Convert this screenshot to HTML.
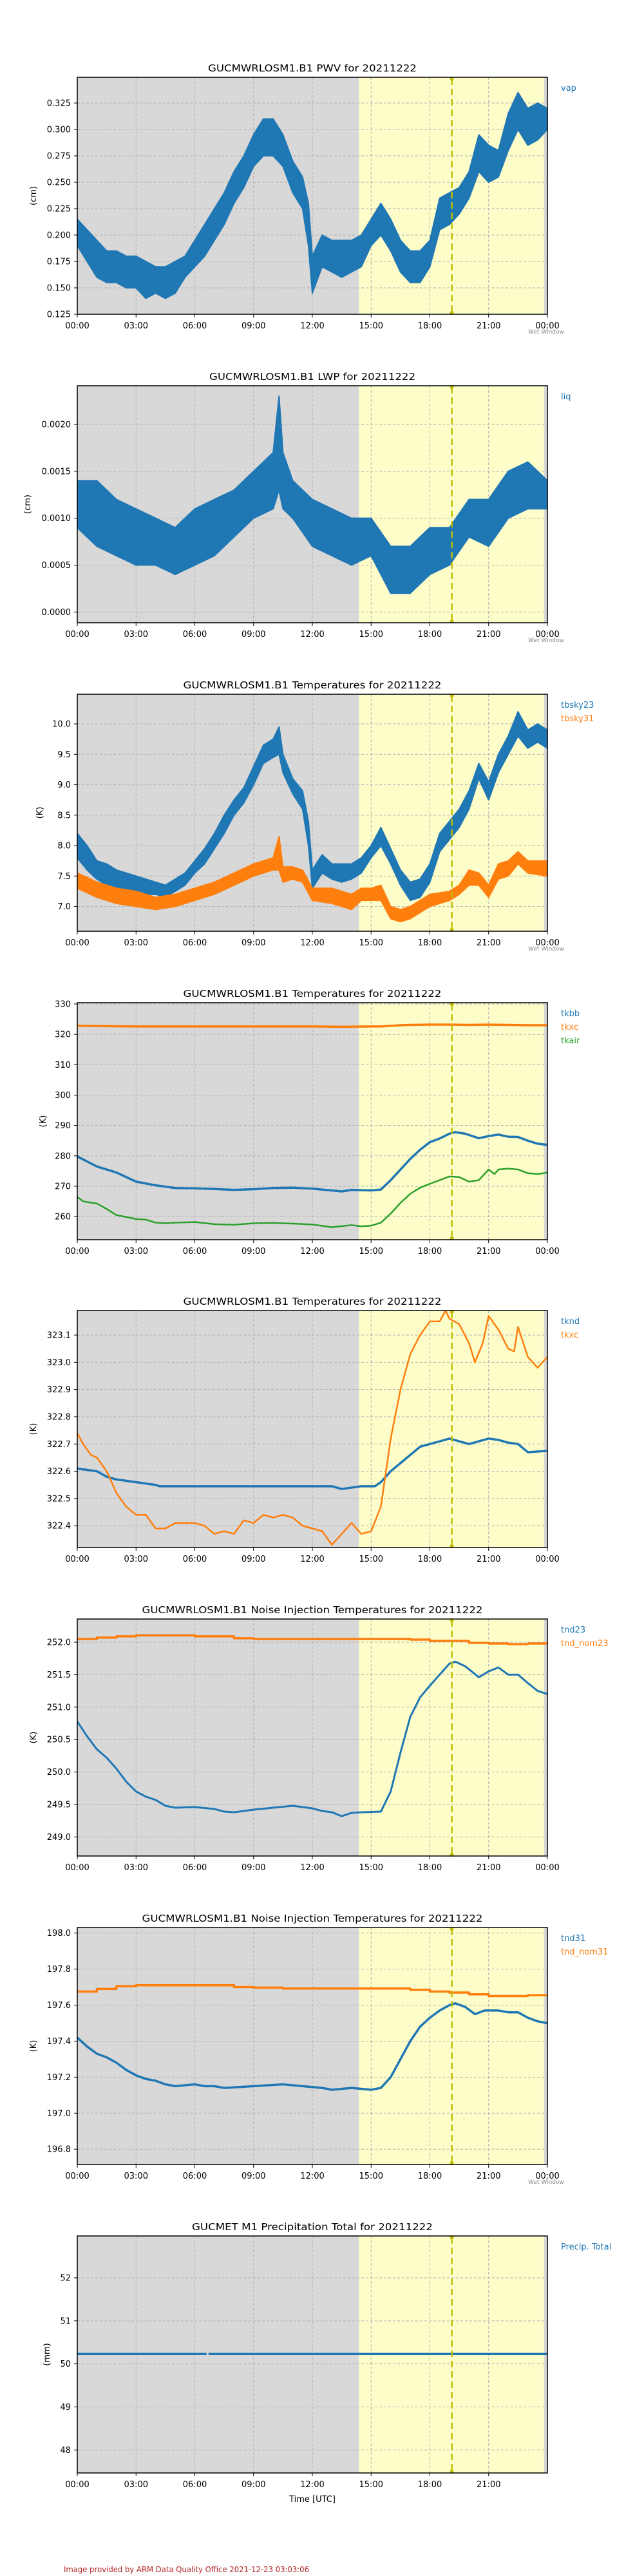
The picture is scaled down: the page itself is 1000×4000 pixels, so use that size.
<!DOCTYPE html>
<html><head><meta charset="utf-8"><title>GUCMWRLOSM1 plots</title>
<style>
html,body{margin:0;padding:0;background:#fff;}
svg{display:block;}
text{font-family:"DejaVu Sans","Liberation Sans",sans-serif;}
</style></head>
<body>
<svg id="root" width="1000" height="4000" viewBox="0 0 1000 4000" xmlns="http://www.w3.org/2000/svg"></svg>
<script>
// ===== Data =====
const pwvT  = [0,0.5,1,1.5,2,2.5,3,3.5,4,4.5,5,5.5,6,6.5,7,7.5,8,8.5,9,9.5,10,10.5,11,11.5,11.8,12,12.5,13,13.5,14,14.5,15,15.5,16,16.5,17,17.5,18,18.5,19,19.5,20,20.5,21,21.5,22,22.5,23,23.5,24];
const pwvLo = [0.19,0.175,0.16,0.155,0.155,0.15,0.15,0.14,0.145,0.14,0.145,0.16,0.17,0.18,0.195,0.21,0.23,0.245,0.265,0.275,0.275,0.265,0.24,0.225,0.19,0.145,0.17,0.165,0.16,0.165,0.17,0.19,0.2,0.185,0.165,0.155,0.155,0.17,0.205,0.21,0.22,0.235,0.26,0.25,0.255,0.28,0.3,0.285,0.29,0.3];
const pwvHi = [0.215,0.205,0.195,0.185,0.185,0.18,0.18,0.175,0.17,0.17,0.175,0.18,0.195,0.21,0.225,0.24,0.26,0.275,0.295,0.31,0.31,0.295,0.27,0.255,0.23,0.18,0.2,0.195,0.195,0.195,0.2,0.215,0.23,0.215,0.195,0.185,0.185,0.195,0.235,0.24,0.245,0.26,0.295,0.285,0.28,0.315,0.335,0.32,0.325,0.32];
const lwpT  = [0,1,2,3,4,5,6,7,8,9,10,10.3,10.5,11,12,13,14,15,16,17,18,19,20,21,22,23,24];
const lwpLo = [0.0009,0.0007,0.0006,0.0005,0.0005,0.0004,0.0005,0.0006,0.0008,0.001,0.0011,0.0013,0.0011,0.001,0.0007,0.0006,0.0005,0.0006,0.0002,0.0002,0.0004,0.0005,0.0008,0.0007,0.001,0.0011,0.0011];
const lwpHi = [0.0014,0.0014,0.0012,0.0011,0.001,0.0009,0.0011,0.0012,0.0013,0.0015,0.0017,0.0023,0.0017,0.0014,0.0012,0.0011,0.001,0.001,0.0007,0.0007,0.0009,0.0009,0.0012,0.0012,0.0015,0.0016,0.0014];
const skyT   = [0,0.5,1,1.5,2,2.5,3,3.5,4,4.5,5,5.5,6,6.5,7,7.5,8,8.5,9,9.5,10,10.3,10.5,11,11.5,11.8,12,12.5,13,13.5,14,14.5,15,15.5,16,16.5,17,17.5,18,18.5,19,19.5,20,20.5,21,21.5,22,22.5,23,23.5,24];
const sky23Lo= [7.8,7.6,7.45,7.35,7.3,7.25,7.2,7.2,7.2,7.15,7.25,7.35,7.55,7.7,7.95,8.2,8.5,8.7,9.0,9.35,9.45,9.5,9.2,8.85,8.6,8.0,7.3,7.55,7.45,7.4,7.45,7.55,7.8,8.0,7.7,7.35,7.1,7.15,7.4,7.9,8.1,8.3,8.6,9.1,8.75,9.2,9.5,9.8,9.6,9.7,9.6];
const sky23Hi= [8.2,8.0,7.75,7.7,7.6,7.55,7.5,7.45,7.4,7.35,7.45,7.55,7.75,7.95,8.2,8.5,8.75,8.95,9.3,9.65,9.75,9.95,9.5,9.1,8.9,8.4,7.6,7.85,7.7,7.7,7.7,7.8,8.0,8.3,7.95,7.6,7.4,7.45,7.7,8.2,8.4,8.6,8.9,9.35,9.05,9.5,9.8,10.2,9.9,10.0,9.9];
const sky31T = [0,1,2,3,4,5,6,7,8,9,10,10.3,10.5,11,11.5,12,13,14,14.5,15,15.5,16,16.5,17,17.5,18,19,19.5,20,20.5,21,21.5,22,22.5,23,24];
const sky31Lo= [7.3,7.15,7.05,7.0,6.95,7.0,7.1,7.2,7.35,7.5,7.6,7.6,7.4,7.45,7.4,7.1,7.05,6.95,7.1,7.1,7.1,6.8,6.75,6.8,6.9,7.0,7.1,7.2,7.35,7.35,7.15,7.45,7.5,7.7,7.55,7.5];
const sky31Hi= [7.55,7.4,7.3,7.25,7.15,7.2,7.3,7.4,7.55,7.7,7.8,8.15,7.65,7.65,7.6,7.3,7.3,7.2,7.3,7.3,7.35,7.0,6.95,7.0,7.1,7.2,7.25,7.35,7.6,7.55,7.35,7.7,7.75,7.9,7.75,7.75];
const tkxcT  = [0,3,6,9,12,13.5,15,15.5,16,16.5,17,18,19,20,21,22,23,24];
const tkxcV  = [322.8,322.6,322.6,322.6,322.6,322.5,322.6,322.6,322.8,323.0,323.1,323.2,323.2,323.1,323.2,323.1,323.0,323.0];
const tkbbT  = [0,1,2,3,4,5,6,7,8,9,10,11,12,13,13.5,14,15,15.5,16,16.5,17,17.5,18,18.5,19,19.3,19.8,20.5,21,21.5,22,22.5,23,23.5,24];
const tkbbV  = [279.8,276.5,274.5,271.5,270.3,269.4,269.3,269.1,268.8,269.0,269.4,269.5,269.2,268.6,268.3,268.8,268.6,268.9,272,275.5,279,282,284.5,285.7,287.3,287.8,287.3,285.8,286.5,287.0,286.3,286.2,285,284,283.6];
const tkairT = [0,0.3,1,1.5,2,3,3.5,4,4.5,5,6,7,8,9,10,11,12,13,14,14.5,15,15.5,16,16.5,17,17.5,18,18.5,19,19.5,20,20.5,21,21.3,21.5,22,22.5,23,23.5,24];
const tkairV = [266.5,265,264.3,262.5,260.5,259.2,259,258,257.8,258,258.2,257.5,257.3,257.8,257.9,257.7,257.4,256.5,257.2,256.8,257,258,261,264.5,267.5,269.5,270.8,272,273.2,273,271.5,272,275.5,274,275.5,275.8,275.5,274.3,274.0,274.5];
const tkndT  = [0,1,1.5,2,3,4,4.2,13,13.5,14.5,15.2,15.5,16,16.5,17,17.5,18,18.5,19,19.5,20,20.5,21,21.5,22,22.5,23,24];
const tkndV  = [322.61,322.6,322.58,322.57,322.56,322.55,322.545,322.545,322.535,322.545,322.545,322.56,322.6,322.63,322.66,322.69,322.7,322.71,322.72,322.71,322.7,322.71,322.72,322.715,322.705,322.7,322.67,322.675];
const tkxc2T = [0,0.3,0.7,1,1.5,2,2.5,3,3.5,4,4.5,5,5.5,6,6.5,7,7.5,8,8.5,9,9.5,10,10.5,11,11.5,12,12.5,13,13.5,14,14.5,15,15.5,16,16.5,17,17.5,18,18.5,18.8,19,19.5,20,20.3,20.7,21,21.5,22,22.3,22.5,23,23.5,24];
const tkxc2V = [322.74,322.7,322.66,322.65,322.6,322.52,322.47,322.44,322.44,322.39,322.39,322.41,322.41,322.41,322.4,322.37,322.38,322.37,322.42,322.41,322.44,322.43,322.44,322.43,322.4,322.39,322.38,322.33,322.37,322.41,322.37,322.38,322.47,322.72,322.9,323.03,323.1,323.15,323.15,323.19,323.16,323.14,323.07,323.0,323.07,323.17,323.12,323.05,323.04,323.13,323.02,322.98,323.02];
const tnd23T = [0,0.5,1,1.5,2,2.5,3,3.5,4,4.5,5,6,7,7.5,8,9,10,11,12,12.5,13,13.5,14,14.5,15.5,16,16.5,17,17.5,18,18.5,19,19.3,19.8,20.5,21,21.5,22,22.5,23,23.5,24];
const tnd23V = [250.78,250.55,250.35,250.22,250.05,249.85,249.7,249.62,249.57,249.48,249.45,249.46,249.43,249.39,249.38,249.42,249.45,249.48,249.44,249.40,249.38,249.32,249.37,249.38,249.39,249.7,250.3,250.85,251.15,251.33,251.5,251.67,251.7,251.63,251.46,251.55,251.61,251.5,251.5,251.37,251.25,251.2];
const nom23T = [0,1,2,3,6,8,9,17,18,20,21,22,23,24];
const nom23V = [252.05,252.07,252.09,252.105,252.09,252.06,252.05,252.04,252.02,251.99,251.98,251.97,251.98,251.98];
const tnd31T = [0,0.5,1,1.5,2,2.5,3,3.5,4,4.5,5,6,6.5,7,7.5,9,10.5,11.5,12.5,13,14,15,15.5,16,16.5,17,17.5,18,18.5,19,19.3,19.8,20.3,20.8,21.5,22,22.5,23,23.5,24];
const tnd31V = [197.42,197.37,197.33,197.31,197.28,197.24,197.21,197.19,197.18,197.16,197.15,197.16,197.15,197.15,197.14,197.15,197.16,197.15,197.14,197.13,197.14,197.13,197.14,197.2,197.3,197.4,197.48,197.53,197.57,197.6,197.61,197.59,197.55,197.57,197.57,197.56,197.56,197.53,197.51,197.5];
const nom31T = [0,1,2,3,8,9,10.5,17,18,19,20,21,23,24];
const nom31V = [197.675,197.69,197.705,197.71,197.7,197.697,197.692,197.685,197.675,197.67,197.66,197.65,197.655,197.655];
const precT  = [0,6.6,6.7,24];
const precV  = [50.23,50.23,50.23,50.23];

const xTickLabels = ["00:00","03:00","06:00","09:00","12:00","15:00","18:00","21:00","00:00"];
const xTickHours  = [0,3,6,9,12,15,18,21,24];
const ticks1 = [0.125,0.15,0.175,0.2,0.225,0.25,0.275,0.3,0.325];
const ticks2 = [0,0.0005,0.001,0.0015,0.002];
const ticks3 = [7.0,7.5,8.0,8.5,9.0,9.5,10.0];
const ticks4 = [260,270,280,290,300,310,320,330];
const ticks5 = [322.4,322.5,322.6,322.7,322.8,322.9,323.0,323.1];
const ticks6 = [249.0,249.5,250.0,250.5,251.0,251.5,252.0];
const ticks7 = [196.8,197.0,197.2,197.4,197.6,197.8,198.0];
const ticks8 = [48,49,50,51,52];
const grayEnd = 14.38, yellowEnd = 23.83, wetLine = 19.12;

// ===== Drawing =====
const NS = "http://www.w3.org/2000/svg";
const root = document.getElementById('root');
const L = 120, R = 850, H = 368;
const CX = (L+R)/2;
const BLUE="#1f77b4", ORANGE="#ff7f0e", GREEN="#2ca02c";
function el(tag, attrs, parent){ const e=document.createElementNS(NS,tag); for(const k in attrs) e.setAttribute(k,attrs[k]); (parent||root).appendChild(e); return e; }
function xs(h){ return L + h/24*(R-L); }

function panel(idx, top, ymin, ymax, title, titleW, ylab, ticks, dec, legend, wet, lastTick, xlabel){
  const g = el('g',{});
  
  
  const bot = top + H;
  const ys = v => bot - (v-ymin)/(ymax-ymin)*H;
  const bg1 = el('rect',{x:L,y:top,width:xs(grayEnd)-L,height:H,fill:'#d8d8d8'},g);
  
  
  const bg2 = el('rect',{x:xs(grayEnd),y:top,width:xs(yellowEnd)-xs(grayEnd),height:H,fill:'#fdfdca'},g);
  
  
  el('rect',{x:xs(yellowEnd),y:top,width:R-xs(yellowEnd),height:H,fill:'#d8d8d8'},g);
  xTickHours.forEach(h=>{ if(h>0&&h<24) el('line',{x1:xs(h),x2:xs(h),y1:top,y2:bot,stroke:'#b0b0b0','stroke-width':1,'stroke-dasharray':'4,3'},g); });
  ticks.forEach(v=>{ el('line',{x1:L,x2:R,y1:ys(v),y2:ys(v),stroke:'#b0b0b0','stroke-width':1,'stroke-dasharray':'4,3'},g); });
  const clipId='clip'+idx;
  const cp = el('clipPath',{id:clipId},g); el('rect',{x:L,y:top,width:R-L,height:H},cp);
  const data = el('g',{'clip-path':'url(#'+clipId+')'},g);
  
  
  const wl = el('line',{x1:xs(wetLine),x2:xs(wetLine),y1:top+2,y2:bot-2,stroke:'#bfbf00','stroke-width':2.5,'stroke-dasharray':'10,6'},g);
  
  
  el('circle',{cx:xs(wetLine),cy:top+2,r:3,fill:'#bfbf00'},g);
  el('circle',{cx:xs(wetLine),cy:bot-2,r:3,fill:'#bfbf00'},g);
  const fr = el('rect',{x:L,y:top,width:R-L,height:H,fill:'none',stroke:'#000','stroke-width':1.5},g);
  
  
  ticks.forEach(v=>{
    el('line',{x1:L-5,x2:L,y1:ys(v),y2:ys(v),stroke:'#000','stroke-width':1},g);
    const t = el('text',{x:L-10,y:ys(v)+4.5,'text-anchor':'end','font-size':13,fill:'#000'},g);
    t.textContent = v.toFixed(dec);
    
    
  });
  xTickHours.forEach((h,i)=>{
    if(i>lastTick) return;
    el('line',{x1:xs(h),x2:xs(h),y1:bot,y2:bot+5,stroke:'#000','stroke-width':1},g);
    const t = el('text',{x:xs(h),y:bot+22,'text-anchor':'middle','font-size':13,fill:'#000'},g);
    t.textContent = xTickLabels[i];
    
    
  });
  const tt = el('text',{x:CX,y:top-9,'text-anchor':'middle','font-size':15,fill:'#000',textLength:titleW,lengthAdjust:'spacingAndGlyphs'},g);
  tt.textContent = title;
  
  
  const yl = el('text',{x:0,y:0,'text-anchor':'middle','font-size':13,fill:'#000',transform:'translate('+(ylab[1])+','+(top+H/2)+') rotate(-90)'},g);
  yl.textContent = ylab[0];
  
  
  legend.forEach((lg,i)=>{
    const t = el('text',{x:871,y:top+21+i*21,'font-size':13,fill:lg[1]},g);
    t.textContent = lg[0];
    
    
  });
  if(wet){
    const w = el('text',{x:848,y:bot+30,'text-anchor':'middle','font-size':9,fill:'#888'},g);
    w.textContent = 'Wet Window';
    
    
  }
  if(xlabel){
    const w = el('text',{x:CX,y:bot+45,'text-anchor':'middle','font-size':13,fill:'#000'},g);
    w.textContent = xlabel;
    
    
  }
  return {data, ys};
}
function band(p, T, lo, hi, color, name){
  const pts = T.map((t,i)=>xs(t)+','+p.ys(hi[i])).concat(T.map((t,i)=>[t,i]).reverse().map(([t,i])=>xs(t)+','+p.ys(lo[i])));
  const e = el('polygon',{points:pts.join(' '),fill:color,stroke:color,'stroke-width':2,'stroke-linejoin':'round'},p.data);
  
  
}
function line(p, T, V, color, name, w, step){
  let pts=[];
  T.forEach((t,i)=>{ if(step && i>0) pts.push(xs(t)+','+p.ys(V[i-1])); pts.push(xs(t)+','+p.ys(V[i])); });
  const e = el('polyline',{points:pts.join(' '),fill:'none',stroke:color,'stroke-width':w||3,'stroke-linejoin':'round'},p.data);
  
  
}

const TOP=[120,599,1078,1557,2035,2514,2993,3472];
let p;
p = panel(1,TOP[0],0.125,0.3494,'GUCMWRLOSM1.B1 PWV for 20211222',324,['(cm)',56],ticks1,3,[['vap',BLUE]],true,8);
band(p,pwvT,pwvLo,pwvHi,BLUE,'vap-series');
p = panel(2,TOP[1],-0.0001145,0.002412,'GUCMWRLOSM1.B1 LWP for 20211222',320,['(cm)',47],ticks2,4,[['liq',BLUE]],true,8);
band(p,lwpT,lwpLo,lwpHi,BLUE,'liq-series');
p = panel(3,TOP[2],6.594,10.487,'GUCMWRLOSM1.B1 Temperatures for 20211222',401,['(K)',66],ticks3,1,[['tbsky23',BLUE],['tbsky31',ORANGE]],true,8);
band(p,skyT,sky23Lo,sky23Hi,BLUE,'tbsky23-series');
band(p,sky31T,sky31Lo,sky31Hi,ORANGE,'tbsky31-series');
p = panel(4,TOP[3],252.39,330.42,'GUCMWRLOSM1.B1 Temperatures for 20211222',401,['(K)',71],ticks4,0,[['tkbb',BLUE],['tkxc',ORANGE],['tkair',GREEN]],false,8);
line(p,tkxcT,tkxcV,ORANGE,'tkxc-series',3.5);
line(p,tkbbT,tkbbV,BLUE,'tkbb-series',3.5);
line(p,tkairT,tkairV,GREEN,'tkair-series',2.5);
p = panel(5,TOP[4],322.32,323.19,'GUCMWRLOSM1.B1 Temperatures for 20211222',401,['(K)',56],ticks5,1,[['tknd',BLUE],['tkxc',ORANGE]],false,8);
line(p,tkndT,tkndV,BLUE,'tknd-series',3.5);
line(p,tkxc2T,tkxc2V,ORANGE,'tkxc-series',2.5);
p = panel(6,TOP[5],248.706,252.357,'GUCMWRLOSM1.B1 Noise Injection Temperatures for 20211222',529,['(K)',56],ticks6,1,[['tnd23',BLUE],['tnd_nom23',ORANGE]],false,8);
line(p,nom23T,nom23V,ORANGE,'tnd-nom23-series',3.5,true);
line(p,tnd23T,tnd23V,BLUE,'tnd23-series',3);
p = panel(7,TOP[6],196.715,198.031,'GUCMWRLOSM1.B1 Noise Injection Temperatures for 20211222',529,['(K)',56],ticks7,1,[['tnd31',BLUE],['tnd_nom31',ORANGE]],true,8);
line(p,nom31T,nom31V,ORANGE,'tnd-nom31-series',3.5,true);
line(p,tnd31T,tnd31V,BLUE,'tnd31-series',3.5);
p = panel(8,TOP[7],47.465,52.973,'GUCMET M1 Precipitation Total for 20211222',374,['(mm)',77],ticks8,0,[['Precip. Total',BLUE]],false,7,'Time [UTC]');
line(p,precT.slice(0,2),precV.slice(0,2),BLUE,'precip-series',3.5);
line(p,precT.slice(2),precV.slice(2),BLUE,'precip-series',3.5);

const ft = el('text',{x:99,y:3994,'font-size':12,fill:'#b22222',textLength:381,lengthAdjust:'spacingAndGlyphs'});
ft.textContent = 'Image provided by ARM Data Quality Office 2021-12-23 03:03:06';


</script>
</body></html>
